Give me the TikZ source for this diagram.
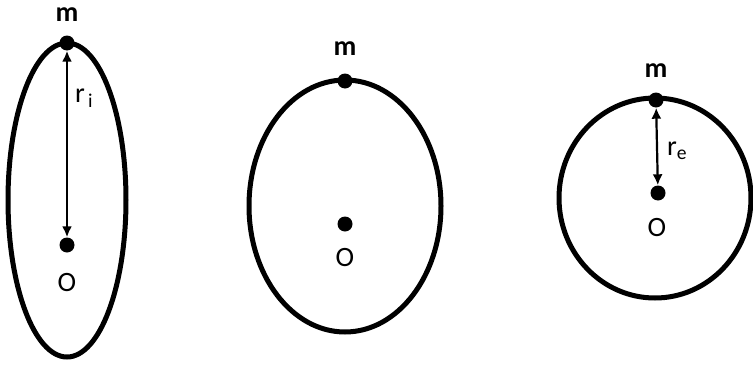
\documentclass[tikz,border=0pt]{standalone}
\usepackage{fontspec}
\setmainfont{Carlito}
\usetikzlibrary{arrows.meta}
\begin{document}
\begin{tikzpicture}[x=1pt,y=-1pt,
  orbit/.style={draw=black,line width=5pt},
  mass/.style={circle,fill=black,inner sep=0pt,minimum size=15pt},
  lbl/.style={font=\fontsize{28}{32}\selectfont\bfseries,inner sep=0pt},
  lblr/.style={font=\fontsize{28}{32}\selectfont,inner sep=0pt},
  radius/.style={line width=2.2pt,{Latex[length=11pt,width=10pt]}-{Latex[length=11pt,width=10pt]}}]
\useasboundingbox (0,0) rectangle (753,367);
% orbit 1
\draw[orbit] (67,200) ellipse [x radius=59, y radius=157];
\node[mass] (m1) at (67,43) {};
\node[mass] (o1) at (67,245) {};
\node[lbl] (lm1) at (67,15) {m};
\node[lblr] (lo1) at (67,283) {O};
\draw[radius] (m1) -- (o1);
\node[lblr,anchor=west] (r1) at (75,98) {r\textsubscript{\,i}};
% orbit 2
\draw[orbit] (345,206) ellipse [x radius=96, y radius=126];
\node[mass] (m2) at (345,81) {};
\node[mass] (o2) at (345,224) {};
\node[lbl] (lm2) at (345,49) {m};
\node[lblr] (lo2) at (345,258) {O};
% orbit 3
\draw[orbit] (655,198) ellipse [x radius=96, y radius=100];
\node[mass] (m3) at (656,100) {};
\node[mass] (o3) at (658,193) {};
\node[lbl] (lm3) at (656,71) {m};
\node[lblr] (lo3) at (657,228) {O};
\draw[radius] (m3) -- (o3);
\node[lblr,anchor=west] (r3) at (667,151) {r\textsubscript{e}};
\end{tikzpicture}
\end{document}
